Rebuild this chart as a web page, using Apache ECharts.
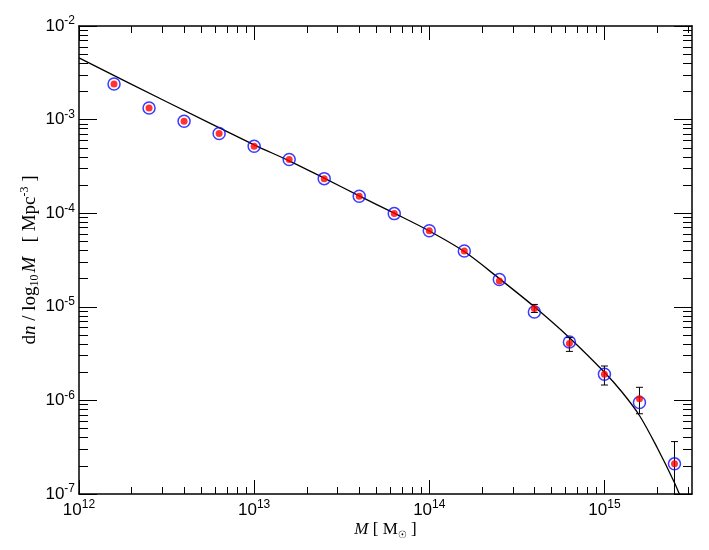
<!DOCTYPE html>
<html>
<head>
<meta charset="utf-8">
<title>Halo mass function</title>
<script src="https://cdn.jsdelivr.net/npm/echarts@6/dist/echarts.min.js"></script>
<style>
  html, body { margin: 0; padding: 0; background: #fff; }
  #chart { width: 709px; height: 550px; }
</style>
</head>
<body>
<div id="chart"></div>
<script>
// halo masses of the binned points [M_sun]
const mass = [1.585e12, 2.512e12, 3.981e12, 6.310e12, 1.000e13, 1.585e13, 2.512e13, 3.981e13, 6.310e13,
  1.000e14, 1.585e14, 2.512e14, 3.981e14, 6.310e14, 1.000e15, 1.585e15, 2.512e15];
// blue open circles
const nCircle = [2.40e-3, 1.33e-3, 9.6e-4, 7.1e-4, 5.2e-4, 3.74e-4, 2.34e-4, 1.52e-4, 9.9e-5,
  6.5e-5, 3.94e-5, 1.96e-5, 8.8e-6, 4.2e-6, 1.90e-6, 9.5e-7, 2.1e-7];
// red filled dots
const nDot = [2.40e-3, 1.33e-3, 9.6e-4, 7.1e-4, 5.2e-4, 3.74e-4, 2.34e-4, 1.52e-4, 9.9e-5,
  6.5e-5, 3.94e-5, 1.89e-5, 9.6e-6, 4.05e-6, 1.90e-6, 1.04e-6, 2.1e-7];
// error bars on the red dots (null = none drawn)
const errLow = [null, null, null, null, null, null, null, null, null,
  null, null, null, 8.7e-6, 3.34e-6, 1.46e-6, 7.2e-7, 5.0e-8];
const errHigh = [null, null, null, null, null, null, null, null, null,
  null, null, null, 1.06e-5, 4.69e-6, 2.33e-6, 1.38e-6, 3.63e-7];
// model curve
const curveMass = [1e12, 3.162e12, 1e13, 1.585e13, 2.512e13, 3.981e13, 6.310e13, 1e14, 1.585e14,
  2.512e14, 3.981e14, 6.310e14, 1e15, 1.259e15, 1.585e15, 1.995e15, 2.512e15, 2.818e15];
const curveN = [4.57e-3, 1.55e-3, 5.37e-4, 3.63e-4, 2.37e-4, 1.53e-4, 1.0e-4, 6.46e-5, 3.89e-5,
  2.0e-5, 1.0e-5, 4.68e-6, 2.0e-6, 1.23e-6, 6.9e-7, 3.16e-7, 1.32e-7, 7.9e-8];

// axis decades (exponents) and minor steps
const xDecades = [12, 13, 14, 15];
const yDecades = [-7, -6, -5, -4, -3, -2];
const minorSteps = [2, 3, 4, 5, 6, 7, 8, 9];
const xRange = [12, 15.5];
const yRange = [-7, -2];

function minorTicks(decades, range) {
  const out = [];
  decades.forEach(function (n) {
    minorSteps.forEach(function (k) {
      const v = n + Math.log10(k);
      if (v < range[1]) out.push(v);
    });
  });
  return out;
}
const xMinor = minorTicks(xDecades, xRange);
const yMinor = minorTicks(yDecades.slice(0, -1), yRange);

const sans = "'Liberation Sans', Arial, sans-serif";
const serif = "'Liberation Serif', 'Times New Roman', serif";

const tickRich = {
  b: { fontFamily: sans, fontSize: 17, color: '#000', lineHeight: 22 },
  s: { fontFamily: sans, fontSize: 12, color: '#000', lineHeight: 13, verticalAlign: 'top' }
};
function powLabel(v) {
  return '{b|10}{s|' + Math.round(v) + '}';
}

// helper for the tick-only overlay axes
function tickAxis(position, range, values, len, labels, line) {
  return {
    type: 'value',
    gridIndex: 0,
    position: position,
    min: range[0],
    max: range[1],
    axisLine: { show: line, onZero: false, lineStyle: { color: '#000', width: 1.5 } },
    axisTick: { show: true, inside: true, length: len, customValues: values,
      lineStyle: { color: '#000', width: 1 } },
    axisLabel: labels,
    splitLine: { show: false }
  };
}

const chart = echarts.init(document.getElementById('chart'));

const circleData = mass.map(function (m, i) { return [m, nCircle[i]]; });
const dotData = mass.map(function (m, i) { return [m, nDot[i]]; });
const errData = mass.map(function (m, i) { return [m, errLow[i], errHigh[i]]; })
  .filter(function (d) { return d[1] != null; });
const curveData = curveMass.map(function (m, i) { return [m, curveN[i]]; });

chart.setOption({
  animation: false,
  backgroundColor: '#fff',
  grid: { left: 79, right: 17, top: 26, bottom: 56, containLabel: false },
  xAxis: [
    {
      type: 'log',
      logBase: 10,
      min: 1e12,
      max: Math.pow(10, 15.5),
      axisLine: { show: false },
      axisTick: { show: false },
      axisLabel: { show: false },
      splitLine: { show: false },
      name: '{i|M}{r| [ M}{sub|\u2609}{r| ]}',
      nameLocation: 'middle',
      nameGap: 26,
      nameTextStyle: {
        rich: {
          i: { fontFamily: serif, fontSize: 17, fontStyle: 'italic', color: '#000', lineHeight: 20 },
          r: { fontFamily: serif, fontSize: 17, color: '#000', lineHeight: 20 },
          sub: { fontFamily: "'DejaVu Sans', sans-serif", fontSize: 10, color: '#000', lineHeight: 11, verticalAlign: 'bottom' }
        }
      }
    },
    tickAxis('bottom', xRange, xDecades, 14, {
      show: true, customValues: xDecades, margin: 5, formatter: powLabel, rich: tickRich
    }, true),
    tickAxis('bottom', xRange, xMinor, 7, { show: false }, false),
    tickAxis('top', xRange, xDecades, 14, { show: false }, true),
    tickAxis('top', xRange, xMinor, 7, { show: false }, false)
  ],
  yAxis: [
    {
      type: 'log',
      logBase: 10,
      min: 1e-7,
      max: 1e-2,
      axisLine: { show: false },
      axisTick: { show: false },
      axisLabel: { show: false },
      splitLine: { show: false },
      name: '{r|d}{i|n}{r| / log}{sub|10}{i|M}{r|   [ Mpc}{sup|-3}{r| ]}',
      nameLocation: 'middle',
      nameGap: 38,
      nameTextStyle: {
        rich: {
          i: { fontFamily: serif, fontSize: 19, fontStyle: 'italic', color: '#000', lineHeight: 22 },
          r: { fontFamily: serif, fontSize: 19, color: '#000', lineHeight: 22 },
          sub: { fontFamily: serif, fontSize: 12, color: '#000', lineHeight: 13, verticalAlign: 'bottom', padding: [0, 2, 0, 0] },
          sup: { fontFamily: serif, fontSize: 12, color: '#000', lineHeight: 13, verticalAlign: 'top' }
        }
      }
    },
    tickAxis('left', yRange, yDecades, 18, {
      show: true, customValues: yDecades, margin: 4, formatter: powLabel, rich: tickRich
    }, true),
    tickAxis('left', yRange, yMinor, 9, { show: false }, false),
    tickAxis('right', yRange, yDecades, 18, { show: false }, true),
    tickAxis('right', yRange, yMinor, 9, { show: false }, false)
  ],
  series: [
    {
      name: 'model',
      type: 'line',
      data: curveData,
      smooth: 0.3,
      showSymbol: false,
      symbol: 'none',
      clip: true,
      lineStyle: { color: '#000', width: 1.3 },
      z: 2
    },
    {
      name: 'errors',
      type: 'custom',
      data: errData,
      z: 3,
      renderItem: function (params, api) {
        const m = api.value(0);
        const hi = api.coord([m, api.value(2)]);
        const lo = api.coord([m, api.value(1)]);
        const bottom = params.coordSys.y + params.coordSys.height;
        const clipped = lo[1] > bottom;
        const y2 = Math.min(lo[1], bottom);
        const st = { stroke: '#000', lineWidth: 1 };
        const kids = [
          { type: 'line', shape: { x1: hi[0], y1: hi[1], x2: hi[0], y2: y2 }, style: st },
          { type: 'line', shape: { x1: hi[0] - 3.5, y1: hi[1], x2: hi[0] + 3.5, y2: hi[1] }, style: st }
        ];
        if (!clipped) {
          kids.push({ type: 'line', shape: { x1: lo[0] - 3.5, y1: lo[1], x2: lo[0] + 3.5, y2: lo[1] }, style: st });
        }
        return { type: 'group', children: kids };
      }
    },
    {
      name: 'circles',
      type: 'scatter',
      data: circleData,
      symbol: 'circle',
      symbolSize: 12,
      itemStyle: { color: 'rgba(0,0,0,0)', borderColor: '#0a0aff', borderWidth: 1.5 },
      z: 4
    },
    {
      name: 'dots',
      type: 'scatter',
      data: dotData,
      symbol: 'circle',
      symbolSize: 7,
      itemStyle: { color: '#ff0000' },
      z: 5
    }
  ]
});
</script>
</body>
</html>
